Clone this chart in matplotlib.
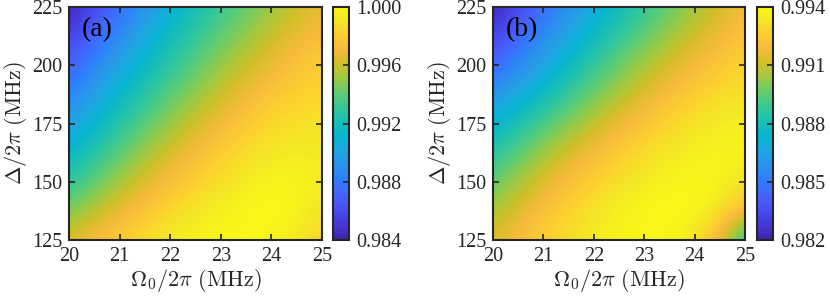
import numpy as np
import matplotlib
matplotlib.use('Agg')
import matplotlib.pyplot as plt
from matplotlib.colors import LinearSegmentedColormap

# grid of the two maps
omega = [20.0, 20.5, 21.0, 21.5, 22.0, 22.5, 23.0, 23.5, 24.0, 24.5, 25.0]
delta = [125.0, 137.5, 150.0, 162.5, 175.0, 187.5, 200.0, 212.5, 225.0]

# fidelity (a), rows follow delta from 125 up to 225
fid_a = [
    [0.99648, 0.99744, 0.99824, 0.99888, 0.99936, 0.99968, 0.99984, 0.99984, 0.99968, 0.99920, 0.99824],
    [0.99456, 0.99568, 0.99680, 0.99776, 0.99856, 0.99920, 0.99952, 0.99984, 1.00000, 0.99968, 0.99904],
    [0.99280, 0.99408, 0.99536, 0.99648, 0.99744, 0.99824, 0.99888, 0.99936, 0.99968, 0.99968, 0.99936],
    [0.99120, 0.99264, 0.99392, 0.99520, 0.99632, 0.99728, 0.99808, 0.99872, 0.99920, 0.99936, 0.99920],
    [0.98976, 0.99120, 0.99264, 0.99392, 0.99504, 0.99616, 0.99712, 0.99792, 0.99856, 0.99888, 0.99904],
    [0.98832, 0.98992, 0.99136, 0.99264, 0.99392, 0.99504, 0.99600, 0.99696, 0.99776, 0.99824, 0.99856],
    [0.98688, 0.98848, 0.99008, 0.99152, 0.99280, 0.99392, 0.99504, 0.99600, 0.99680, 0.99760, 0.99808],
    [0.98530, 0.98720, 0.98880, 0.99040, 0.99184, 0.99296, 0.99408, 0.99504, 0.99600, 0.99680, 0.99744],
    [0.98400, 0.98576, 0.98752, 0.98912, 0.99072, 0.99200, 0.99312, 0.99408, 0.99504, 0.99600, 0.99680],
]

# fidelity (b)
fid_b = [
    [0.99136, 0.99208, 0.99268, 0.99316, 0.99352, 0.99376, 0.99388, 0.99376, 0.99328, 0.99160, 0.98800],
    [0.99052, 0.99136, 0.99220, 0.99280, 0.99328, 0.99364, 0.99388, 0.99400, 0.99388, 0.99340, 0.99184],
    [0.98956, 0.99052, 0.99136, 0.99208, 0.99268, 0.99316, 0.99352, 0.99376, 0.99388, 0.99376, 0.99340],
    [0.98848, 0.98944, 0.99040, 0.99124, 0.99196, 0.99256, 0.99304, 0.99340, 0.99364, 0.99376, 0.99364],
    [0.98728, 0.98824, 0.98920, 0.99004, 0.99088, 0.99160, 0.99232, 0.99280, 0.99328, 0.99352, 0.99364],
    [0.98584, 0.98680, 0.98776, 0.98884, 0.98980, 0.99064, 0.99136, 0.99208, 0.99256, 0.99304, 0.99328],
    [0.98440, 0.98548, 0.98656, 0.98764, 0.98872, 0.98968, 0.99052, 0.99124, 0.99184, 0.99232, 0.99280],
    [0.98310, 0.98440, 0.98560, 0.98668, 0.98776, 0.98872, 0.98956, 0.99040, 0.99112, 0.99172, 0.99232],
    [0.98200, 0.98330, 0.98464, 0.98572, 0.98680, 0.98776, 0.98872, 0.98956, 0.99040, 0.99112, 0.99184],
]

clim_a = (0.984, 1.000)
clim_b = (0.982, 0.994)
cticks_a = [0.984, 0.988, 0.992, 0.996, 1.000]
cticks_b = [0.982, 0.985, 0.988, 0.991, 0.994]
xticks = [20, 21, 22, 23, 24, 25]
yticks = [125, 150, 175, 200, 225]

# MATLAB parula, every 4th entry of the 64-colour table
parula_pts = [
    (0 / 63, (0.2422, 0.1504, 0.6603)),
    (4 / 63, (0.2706, 0.2147, 0.8364)),
    (8 / 63, (0.2813, 0.3006, 0.9414)),
    (12 / 63, (0.2699, 0.3892, 0.9906)),
    (16 / 63, (0.1963, 0.4847, 0.9892)),
    (20 / 63, (0.1687, 0.5703, 0.9359)),
    (24 / 63, (0.1248, 0.6459, 0.8883)),
    (28 / 63, (0.0297, 0.7082, 0.8163)),
    (32 / 63, (0.0964, 0.7500, 0.7120)),
    (36 / 63, (0.2161, 0.7843, 0.5923)),
    (40 / 63, (0.3909, 0.8029, 0.4354)),
    (44 / 63, (0.6174, 0.7876, 0.2612)),
    (48 / 63, (0.8203, 0.7498, 0.1535)),
    (52 / 63, (0.9728, 0.7298, 0.2394)),
    (56 / 63, (0.9892, 0.8136, 0.1885)),
    (60 / 63, (0.9597, 0.9135, 0.1423)),
    (63 / 63, (0.9769, 0.9839, 0.0805)),
]
parula = LinearSegmentedColormap.from_list('parula', parula_pts, N=256)

plt.rcParams['font.family'] = ['Liberation Serif', 'DejaVu Serif']
plt.rcParams['mathtext.fontset'] = 'cm'
edge = '#262626'

fig = plt.figure(figsize=(8.3, 2.98), dpi=100)

panels = [
    ('(a)', fid_a, clim_a, cticks_a, [0.0831, 0.1946, 0.3048, 0.7819], [0.4012, 0.1946, 0.0195, 0.7819]),
    ('(b)', fid_b, clim_b, cticks_b, [0.5940, 0.1946, 0.3036, 0.7819], [0.9120, 0.1946, 0.0195, 0.7819]),
]

dx = (omega[1] - omega[0]) / 2
dy = (delta[1] - delta[0]) / 2
for tag, fid, clim, cticks, apos, cpos in panels:
    ax = fig.add_axes(apos)
    cax = fig.add_axes(cpos)
    im = ax.imshow(np.array(fid), origin='lower', cmap=parula, vmin=clim[0], vmax=clim[1],
                   extent=[omega[0] - dx, omega[-1] + dx, delta[0] - dy, delta[-1] + dy],
                   aspect='auto', interpolation='bicubic')
    ax.set_xlim(omega[0], omega[-1])
    ax.set_ylim(delta[0], delta[-1])
    ax.set_xticks(xticks)
    ax.set_yticks(yticks)
    ax.tick_params(direction='in', top=True, right=True, length=4, width=1.2,
                   labelsize=14.5, colors=edge, pad=5)
    for s in ax.spines.values():
        s.set_linewidth(1.5)
        s.set_color(edge)
    ax.set_xlabel(r'$\Omega_0/2\pi\ (\mathrm{MHz})$', fontsize=16, color=edge, labelpad=1)
    ax.set_ylabel(r'$\Delta/2\pi\ (\mathrm{MHz})$', fontsize=16, color=edge, labelpad=2)
    ax.text(0.05, 0.955, tag, transform=ax.transAxes, ha='left', va='top',
            fontsize=20, color='black')

    cb = fig.colorbar(im, cax=cax, ticks=cticks)
    cb.ax.set_yticklabels(['%.3f' % t for t in cticks])
    cb.ax.tick_params(direction='in', length=4, width=1.2, labelsize=14.5, colors=edge, pad=5)
    cb.outline.set_linewidth(1.5)
    cb.outline.set_edgecolor(edge)

fig.savefig('out.png', dpi=100)
